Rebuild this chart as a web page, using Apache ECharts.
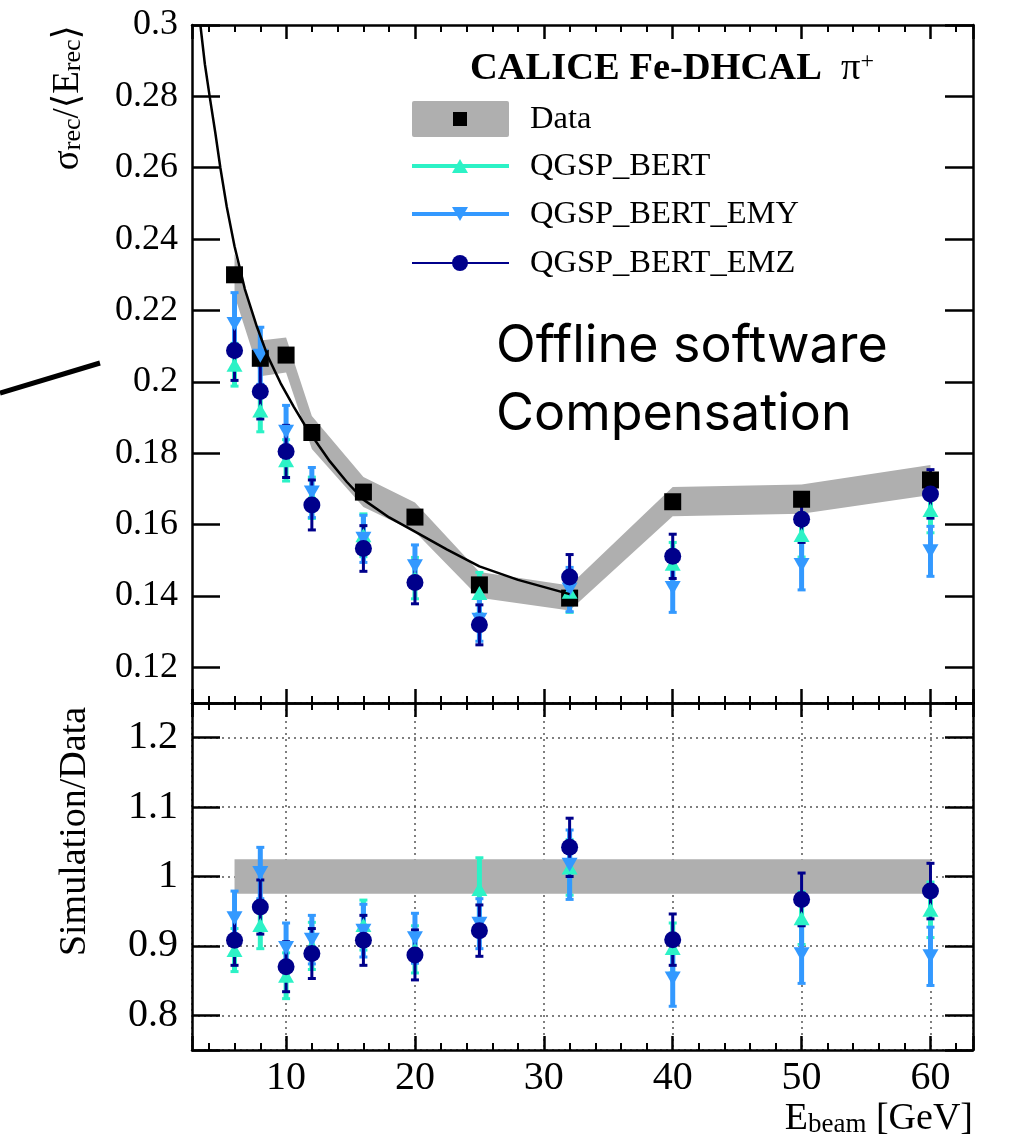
<!DOCTYPE html>
<html>
<head>
<meta charset="utf-8">
<script src="https://cdn.jsdelivr.net/npm/echarts@6/dist/echarts.min.js"></script>
<style>
  html, body { margin: 0; padding: 0; background: #fff; }
  #main { width: 1020px; height: 1141px; }
</style>
</head>
<body>
<div id="main"></div>
<script>
// beam energies [GeV]
var energies = [6, 8, 10, 12, 16, 20, 25, 32, 40, 50, 60];

// top panel: sigma_rec / <E_rec>
var dataRes   = [0.2300, 0.2066, 0.2075, 0.1858, 0.1691, 0.1621, 0.1431, 0.1394, 0.1664, 0.1671, 0.1725];
var dataSys   = [0.0058, 0.0050, 0.0049, 0.0046, 0.0042, 0.0041, 0.0036, 0.0035, 0.0041, 0.0041, 0.0042];
var bertRes   = [0.2048, 0.1920, 0.1780, 0.1675, 0.1570, 0.1450, 0.1408, 0.1412, 0.1490, 0.1571, 0.1641];
var bertErr   = [0.0060, 0.0060, 0.0058, 0.0058, 0.0060, 0.0058, 0.0058, 0.0058, 0.0060, 0.0062, 0.0064];
var emyRes    = [0.2162, 0.2073, 0.1860, 0.1690, 0.1560, 0.1483, 0.1333, 0.1418, 0.1422, 0.1487, 0.1525];
var emyErr    = [0.0088, 0.0080, 0.0074, 0.0070, 0.0066, 0.0060, 0.0060, 0.0062, 0.0068, 0.0070, 0.0070];
var emzRes    = [0.2088, 0.1973, 0.1805, 0.1655, 0.1533, 0.1438, 0.1319, 0.1453, 0.1511, 0.1615, 0.1686];
var emzErr    = [0.0084, 0.0077, 0.0073, 0.0070, 0.0064, 0.0060, 0.0056, 0.0063, 0.0062, 0.0065, 0.0068];

// fit curve drawn through the data
var fitE   = [3.35, 3.7, 4.07, 4.5, 4.9, 5.4, 6.0, 6.8, 7.73, 8.6, 9.58, 10.6, 11.6, 13.4, 14.7, 16, 18, 20, 22.5, 25, 28, 32];
var fitRes = [0.300, 0.289, 0.280, 0.270, 0.260, 0.249, 0.238, 0.226, 0.2155, 0.207, 0.1996, 0.193, 0.187, 0.1777, 0.172, 0.167, 0.162, 0.158, 0.153, 0.1483, 0.1445, 0.1405];

// bottom panel: simulation / data
var bertRatio = [0.894, 0.930, 0.857, 0.900, 0.930, 0.895, 0.982, 1.013, 0.897, 0.940, 0.952];
var bertRErr  = [0.031, 0.034, 0.033, 0.034, 0.036, 0.034, 0.045, 0.040, 0.036, 0.038, 0.040];
var emyRatio  = [0.940, 1.005, 0.897, 0.909, 0.922, 0.911, 0.932, 1.017, 0.853, 0.888, 0.885];
var emyRErr   = [0.039, 0.037, 0.036, 0.035, 0.038, 0.036, 0.036, 0.050, 0.040, 0.042, 0.042];
var emzRatio  = [0.908, 0.956, 0.870, 0.889, 0.908, 0.887, 0.922, 1.042, 0.909, 0.967, 0.979];
var emzRErr   = [0.036, 0.039, 0.036, 0.036, 0.036, 0.036, 0.037, 0.042, 0.037, 0.038, 0.040];
var ratioBandE  = [6, 60];
var ratioBandLo = [0.975, 0.975];
var ratioBandHi = [1.025, 1.025];

// tick labels
var xTicks      = [10, 20, 30, 40, 50, 60];
var topYTicks   = [0.12, 0.14, 0.16, 0.18, 0.2, 0.22, 0.24, 0.26, 0.28, 0.3];
var ratioYTicks = [0.8, 0.9, 1, 1.1, 1.2];

var SERIF = '"Liberation Serif", "DejaVu Serif", serif';
var C_BERT = '#2cf2c6', C_EMY = '#3399ff', C_EMZ = '#00008b', C_BAND = '#afafaf';

function onList(list) {
  return function (v) {
    for (var i = 0; i < list.length; i++) {
      if (Math.abs(v - list[i]) < 1e-6) return String(list[i]);
    }
    return '';
  };
}

function makeX(grid, pos, labels) {
  return {
    type: 'value', gridIndex: grid, position: pos, min: 2.7, max: 63.3, splitNumber: 6,
    axisLine: { show: true, onZero: false, lineStyle: { color: '#000', width: 2.5 } },
    axisTick: { show: true, inside: true, length: 14, lineStyle: { color: '#000', width: 2.5 } },
    minorTick: { show: true, splitNumber: 5, length: 7, lineStyle: { color: '#000', width: 2 } },
    axisLabel: { show: labels, formatter: onList(xTicks), fontFamily: SERIF, fontSize: 40, color: '#000', margin: 8 },
    splitLine: { show: grid === 1 && pos === 'bottom', lineStyle: { color: '#555', width: 1.5, type: [2, 4] } }
  };
}

function makeY(grid, pos, min, max, split, ticks, labels, fs) {
  return {
    type: 'value', gridIndex: grid, position: pos, min: min, max: max, splitNumber: split,
    axisLine: { show: true, onZero: false, lineStyle: { color: '#000', width: 2.5 } },
    axisTick: { show: true, inside: true, length: 28, lineStyle: { color: '#000', width: 2.5 } },
    axisLabel: { show: labels, formatter: onList(ticks), fontFamily: SERIF, fontSize: fs, color: '#000', margin: 14 },
    splitLine: { show: grid === 1 && pos === 'left', lineStyle: { color: '#555', width: 1.5, type: [2, 4] } }
  };
}

function bandSeries(xs, lo, hi, xi, yi) {
  return {
    type: 'custom', xAxisIndex: xi, yAxisIndex: yi, silent: true,
    data: xs.map(function (x, i) { return [x, lo[i], hi[i]]; }),
    encode: { x: 0, y: [1, 2] },
    renderItem: function (params, api) {
      if (params.dataIndex !== 0) return;
      var pts = [], i;
      for (i = 0; i < xs.length; i++) pts.push(api.coord([xs[i], hi[i]]));
      for (i = xs.length - 1; i >= 0; i--) pts.push(api.coord([xs[i], lo[i]]));
      return { type: 'polygon', shape: { points: pts }, style: { fill: C_BAND } };
    }
  };
}

function errSeries(vals, errs, color, w, capW, xi, yi) {
  return {
    type: 'custom', xAxisIndex: xi, yAxisIndex: yi, silent: true,
    data: energies.map(function (x, i) { return [x, vals[i] - errs[i], vals[i] + errs[i]]; }),
    encode: { x: 0, y: [1, 2] },
    renderItem: function (params, api) {
      var x = api.value(0);
      var p1 = api.coord([x, api.value(1)]), p2 = api.coord([x, api.value(2)]);
      var st = { stroke: color, lineWidth: w };
      var cs = { stroke: color, lineWidth: 3 };
      return { type: 'group', children: [
        { type: 'line', shape: { x1: p1[0], y1: p1[1], x2: p2[0], y2: p2[1] }, style: st },
        { type: 'line', shape: { x1: p1[0] - capW, y1: p1[1], x2: p1[0] + capW, y2: p1[1] }, style: cs },
        { type: 'line', shape: { x1: p2[0] - capW, y1: p2[1], x2: p2[0] + capW, y2: p2[1] }, style: cs }
      ] };
    }
  };
}

function markSeries(vals, symbol, size, rot, color, xi, yi) {
  return {
    type: 'scatter', xAxisIndex: xi, yAxisIndex: yi, silent: true,
    symbol: symbol, symbolSize: size, symbolRotate: rot,
    itemStyle: { color: color, opacity: 1 },
    data: energies.map(function (x, i) { return [x, vals[i]]; })
  };
}

var series = [
  bandSeries(energies, dataRes.map(function (v, i) { return v - dataSys[i]; }),
             dataRes.map(function (v, i) { return v + dataSys[i]; }), 0, 0),
  {
    type: 'line', xAxisIndex: 0, yAxisIndex: 0, silent: true, smooth: false,
    showSymbol: false, clip: true, lineStyle: { color: '#000', width: 2.5 },
    data: fitE.map(function (x, i) { return [x, fitRes[i]]; })
  },
  markSeries(dataRes, 'rect', 17, 0, '#000', 0, 0),
  errSeries(bertRes, bertErr, C_BERT, 5, 4, 0, 0),
  markSeries(bertRes, 'triangle', [16, 14], 0, C_BERT, 0, 0),
  errSeries(emyRes, emyErr, C_EMY, 5, 4, 0, 0),
  markSeries(emyRes, 'triangle', [16, 14], 180, C_EMY, 0, 0),
  errSeries(emzRes, emzErr, C_EMZ, 3, 4, 0, 0),
  markSeries(emzRes, 'circle', 17, 0, C_EMZ, 0, 0),

  bandSeries(ratioBandE, ratioBandLo, ratioBandHi, 2, 2),
  errSeries(bertRatio, bertRErr, C_BERT, 5, 4, 2, 2),
  markSeries(bertRatio, 'triangle', [16, 14], 0, C_BERT, 2, 2),
  errSeries(emyRatio, emyRErr, C_EMY, 5, 4, 2, 2),
  markSeries(emyRatio, 'triangle', [16, 14], 180, C_EMY, 2, 2),
  errSeries(emzRatio, emzRErr, C_EMZ, 3, 4, 2, 2),
  markSeries(emzRatio, 'circle', 17, 0, C_EMZ, 2, 2)
];

function tri(cx, cy, down, color) {
  var pts = down ? [[cx - 8, cy - 7], [cx + 8, cy - 7], [cx, cy + 7]]
                 : [[cx - 8, cy + 7], [cx + 8, cy + 7], [cx, cy - 7]];
  return { type: 'polygon', shape: { points: pts }, style: { fill: color } };
}
function legText(y, t) {
  return { type: 'text', x: 530, y: y, style: { text: t, fontFamily: SERIF, fontSize: 32.5, fill: '#000',
    align: 'left', verticalAlign: 'middle', textAlign: 'left', textVerticalAlign: 'middle' } };
}
function bigText(y, t) {
  return { type: 'text', x: 496, y: y, style: { text: t, fontFamily: 'Inter', fontSize: 52, fill: '#000',
    align: 'left', verticalAlign: 'middle', textAlign: 'left', textVerticalAlign: 'middle' } };
}

var graphics = [
  // annotation line at left
  { type: 'line', shape: { x1: 0, y1: 393, x2: 100, y2: 363 }, style: { stroke: '#000', lineWidth: 5 } },
  // title
  { type: 'text', x: 470, y: 69, style: {
      text: '{b|CALICE Fe-DHCAL}{r|  π}{sup|+}', align: 'left', verticalAlign: 'middle',
      textAlign: 'left', textVerticalAlign: 'middle',
      rich: {
        b: { fontFamily: SERIF, fontWeight: 'bold', fontSize: 38.5, fill: '#000' },
        r: { fontFamily: SERIF, fontSize: 38.5, fill: '#000' },
        sup: { fontFamily: SERIF, fontSize: 24, fill: '#000', verticalAlign: 'top' }
      } } },
  // legend
  { type: 'rect', shape: { x: 412, y: 101, width: 97, height: 36, r: 2 }, style: { fill: C_BAND } },
  { type: 'rect', shape: { x: 453, y: 112, width: 14, height: 14 }, style: { fill: '#000' } },
  legText(119, 'Data'),
  { type: 'line', shape: { x1: 412, y1: 166, x2: 509, y2: 166 }, style: { stroke: C_BERT, lineWidth: 4 } },
  tri(460, 166, false, C_BERT),
  legText(166, 'QGSP_BERT'),
  { type: 'line', shape: { x1: 412, y1: 214, x2: 509, y2: 214 }, style: { stroke: C_EMY, lineWidth: 4 } },
  tri(460, 214, true, C_EMY),
  legText(214, 'QGSP_BERT_EMY'),
  { type: 'line', shape: { x1: 412, y1: 263, x2: 509, y2: 263 }, style: { stroke: C_EMZ, lineWidth: 2 } },
  { type: 'circle', shape: { cx: 460, cy: 263, r: 8 }, style: { fill: C_EMZ } },
  legText(263, 'QGSP_BERT_EMZ'),
  // annotation text
  bigText(346, 'Offline software'),
  bigText(414, 'Compensation'),
  // axis titles
  { type: 'text', x: 68, y: 25, rotation: Math.PI / 2, style: {
      text: '{m|σ}{s|rec}{m|/⟨E}{s|rec}{m|⟩}', align: 'right', verticalAlign: 'middle',
      textAlign: 'right', textVerticalAlign: 'middle',
      rich: {
        m: { fontFamily: SERIF, fontSize: 37, fill: '#000' },
        s: { fontFamily: SERIF, fontSize: 26, fill: '#000', verticalAlign: 'bottom' }
      } } },
  { type: 'text', x: 75, y: 707, rotation: Math.PI / 2, style: {
      text: 'Simulation/Data', fontFamily: SERIF, fontSize: 38, fill: '#000',
      align: 'right', verticalAlign: 'middle', textAlign: 'right', textVerticalAlign: 'middle' } },
  { type: 'text', x: 973, y: 1119, style: {
      text: '{m|E}{s|beam}{m| [GeV]}', align: 'right', verticalAlign: 'middle',
      textAlign: 'right', textVerticalAlign: 'middle',
      rich: {
        m: { fontFamily: SERIF, fontSize: 38, fill: '#000' },
        s: { fontFamily: SERIF, fontSize: 27, fill: '#000', verticalAlign: 'bottom' }
      } } }
];

var chart = echarts.init(document.getElementById('main'), null, { renderer: 'canvas' });
chart.setOption({
  animation: false,
  backgroundColor: '#fff',
  grid: [
    { left: 192, top: 25, width: 781, height: 678 },
    { left: 192, top: 703, width: 781, height: 347 }
  ],
  xAxis: [makeX(0, 'bottom', false), makeX(0, 'top', false), makeX(1, 'bottom', true), makeX(1, 'top', false)],
  yAxis: [
    makeY(0, 'left', 0.11, 0.3, 10, topYTicks, true, 36),
    makeY(0, 'right', 0.11, 0.3, 10, topYTicks, false, 36),
    makeY(1, 'left', 0.75, 1.25, 5, ratioYTicks, true, 40),
    makeY(1, 'right', 0.75, 1.25, 5, ratioYTicks, false, 40)
  ],
  series: series,
  graphic: graphics
});
</script>
</body>
</html>
